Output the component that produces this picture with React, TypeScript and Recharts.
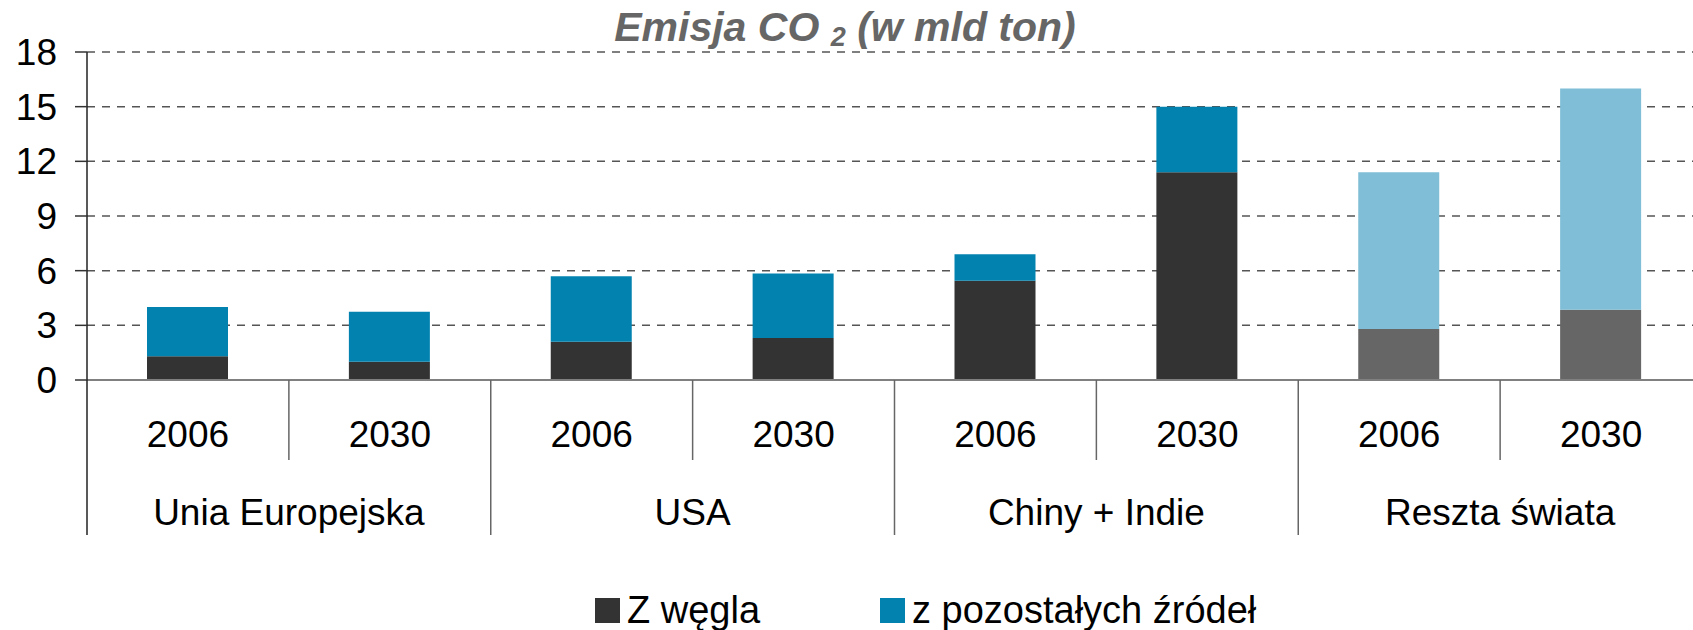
import React from 'react';
import { BarChart, Bar, XAxis, YAxis, CartesianGrid, Legend, Cell } from 'recharts';

const years = ['2006', '2030', '2006', '2030', '2006', '2030', '2006', '2030'];
const regions = ['Unia Europejska', 'USA', 'Chiny + Indie', 'Reszta świata'];
const coal = [1.3, 1.0, 2.1, 2.3, 5.45, 11.4, 2.8, 3.85];
const other = [2.7, 2.75, 3.6, 3.55, 1.45, 3.6, 8.6, 12.15];
const yTicks = [0, 3, 6, 9, 12, 15, 18];
const seriesNames = ['Z węgla', 'z pozostałych źródeł'];

const data = years.map((y, i) => ({ year: y, coal: coal[i], other: other[i] }));

const CHART_W = 1702;
const CHART_H = 630;
const Y_AXIS_W = 87;
const BAND = (CHART_W - Y_AXIS_W) / years.length;
const FONT = '"Liberation Sans", Arial, sans-serif';

const COAL = '#333333';
const COAL_REST = '#666666';
const OTHER = '#0283AF';
const OTHER_REST = '#80BED7';

const XTick = (props: any) => {
  const { x, y, index, payload } = props;
  const half = BAND / 2;
  const groupStart = index % 2 === 0;
  return (
    <g>
      <line
        x1={x - half}
        x2={x - half}
        y1={y}
        y2={y + (groupStart ? 155 : 80)}
        stroke={groupStart && index === 0 ? '#222' : '#666'}
        strokeWidth={1.5}
      />
      <text x={x} y={y + 67} textAnchor="middle" fontSize={37} fill="#000" fontFamily={FONT}>
        {payload.value}
      </text>
      {!groupStart && (
        <text x={x - half} y={y + 145} textAnchor="middle" fontSize={37} fill="#000" fontFamily={FONT}>
          {regions[(index - 1) / 2]}
        </text>
      )}
    </g>
  );
};

const LEG_X = [595, 880];

const renderLegend = (props: any) => {
  const { payload } = props;
  return (
    <div style={{ position: 'relative', width: CHART_W, height: 44 }}>
      {(payload || []).map((p: any, i: number) => (
        <div
          key={i}
          style={{
            position: 'absolute',
            left: LEG_X[i],
            top: 0,
            height: 44,
            display: 'flex',
            alignItems: 'center',
            whiteSpace: 'nowrap',
          }}
        >
          <span style={{ display: 'inline-block', width: 25, height: 25, background: p.color }} />
          <span style={{ marginLeft: 7, fontSize: 38, color: '#000', fontFamily: FONT }}>{p.value}</span>
        </div>
      ))}
    </div>
  );
};

export default function App() {
  return (
    <div
      style={{
        position: 'absolute',
        left: 0,
        top: 0,
        width: 1693,
        height: 630,
        overflow: 'hidden',
        background: '#fff',
        fontFamily: FONT,
      }}
    >
      <div
        style={{
          position: 'absolute',
          left: 0,
          top: 8,
          width: 1690,
          textAlign: 'center',
          fontSize: 41,
          lineHeight: '38px',
          fontWeight: 'bold',
          fontStyle: 'italic',
          color: '#666666',
          zIndex: 2,
          whiteSpace: 'nowrap',
        }}
      >
        Emisja CO <span style={{ fontSize: '0.66em', verticalAlign: '-0.2em' }}>2</span> (w mld ton)
      </div>
      <BarChart
        width={CHART_W}
        height={CHART_H}
        data={data}
        margin={{ top: 52, right: 0, left: 0, bottom: 80 }}
      >
        <CartesianGrid vertical={false} stroke="#555" strokeWidth={1.5} strokeDasharray="8 7" />
        <XAxis
          dataKey="year"
          interval={0}
          tickSize={0}
          tickMargin={0}
          tickLine={false}
          height={170}
          axisLine={{ stroke: '#808080', strokeWidth: 2 }}
          tick={<XTick />}
        />
        <YAxis
          width={Y_AXIS_W}
          domain={[0, 18]}
          ticks={yTicks}
          interval={0}
          tickSize={12}
          tickMargin={18}
          axisLine={{ stroke: '#222', strokeWidth: 1.5 }}
          tickLine={{ stroke: '#333', strokeWidth: 1.5 }}
          tick={{ fontSize: 37, fill: '#000', fontFamily: FONT }}
        />
        <Legend
          layout="horizontal"
          verticalAlign="middle"
          align="center"
          wrapperStyle={{ position: 'absolute', top: 588, left: 0, width: CHART_W, height: 44 }}
          content={renderLegend}
        />
        <Bar dataKey="coal" name={seriesNames[0]} stackId="a" fill={COAL} barSize={81} isAnimationActive={false}>
          {data.map((_, i) => (
            <Cell key={i} fill={i >= 6 ? COAL_REST : COAL} />
          ))}
        </Bar>
        <Bar dataKey="other" name={seriesNames[1]} stackId="a" fill={OTHER} barSize={81} isAnimationActive={false}>
          {data.map((_, i) => (
            <Cell key={i} fill={i >= 6 ? OTHER_REST : OTHER} />
          ))}
        </Bar>
      </BarChart>
    </div>
  );
}
